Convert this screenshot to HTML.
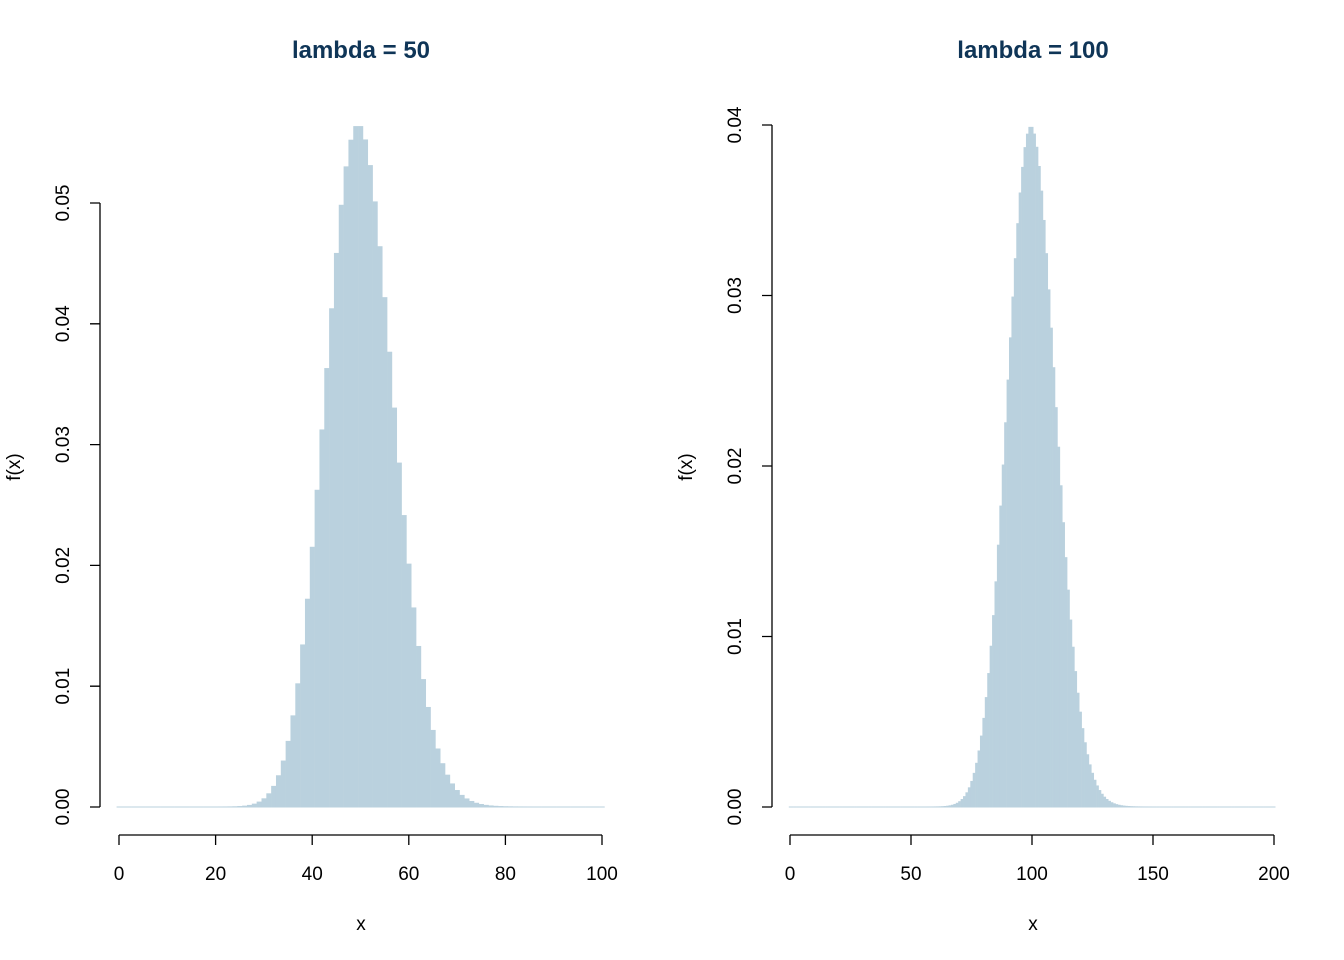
<!DOCTYPE html>
<html><head><meta charset="utf-8"><style>
body{margin:0;background:#fff}
svg{display:block}
text{font-family:"Liberation Sans",sans-serif;fill:#000}
.t{font-weight:bold;font-size:24px;fill:#0f3557}
.k{font-size:19px}
</style></head><body>
<svg id="s" width="1344" height="960" xmlns="http://www.w3.org/2000/svg">
<g id="bars"></g>
<g stroke="#000" stroke-width="1.3" fill="none">
<path d="M119 835H602M119 835v10M215.6 835v10M312.2 835v10M408.8 835v10M505.4 835v10M602 835v10"/>
<path d="M100 203V807M100 807h-10M100 686.2h-10M100 565.4h-10M100 444.6h-10M100 323.8h-10M100 203h-10"/>
<path d="M790 835H1274M790 835v10M911 835v10M1032 835v10M1153 835v10M1274 835v10"/>
<path d="M772 125V807M772 807h-10M772 636.5h-10M772 466h-10M772 295.5h-10M772 125h-10"/>
</g>
<text class="t" x="361" y="58" text-anchor="middle">lambda = 50</text>
<text class="t" x="1033" y="58" text-anchor="middle">lambda = 100</text>
<g class="k" text-anchor="middle">
<text x="119" y="880">0</text><text x="215.6" y="880">20</text><text x="312.2" y="880">40</text><text x="408.8" y="880">60</text><text x="505.4" y="880">80</text><text x="602" y="880">100</text>
<text x="790" y="880">0</text><text x="911" y="880">50</text><text x="1032" y="880">100</text><text x="1153" y="880">150</text><text x="1274" y="880">200</text>
<text x="361" y="930">x</text><text x="1033" y="930">x</text>
<text transform="translate(69,807) rotate(-90)">0.00</text>
<text transform="translate(69,686.2) rotate(-90)">0.01</text>
<text transform="translate(69,565.4) rotate(-90)">0.02</text>
<text transform="translate(69,444.6) rotate(-90)">0.03</text>
<text transform="translate(69,323.8) rotate(-90)">0.04</text>
<text transform="translate(69,203) rotate(-90)">0.05</text>
<text transform="translate(741,807) rotate(-90)">0.00</text>
<text transform="translate(741,636.5) rotate(-90)">0.01</text>
<text transform="translate(741,466) rotate(-90)">0.02</text>
<text transform="translate(741,295.5) rotate(-90)">0.03</text>
<text transform="translate(741,125) rotate(-90)">0.04</text>
<text transform="translate(20,467) rotate(-90)">f(x)</text>
<text transform="translate(692,467) rotate(-90)">f(x)</text>
</g>
</svg>
<script>
var g=document.getElementById('bars'),h='';
function draw(lam,n,x0,sx,y0,sy){
 var lp=-lam;
 for(var k=0;k<=n;k++){
  if(k>0)lp+=Math.log(lam)-Math.log(k);
  var p=Math.exp(lp),hh=p*sy;
  h+='<rect x="'+(x0+(k-0.5)*sx).toFixed(2)+'" y="'+(y0-hh-0.5).toFixed(2)+'" width="'+(sx+0.3).toFixed(2)+'" height="'+(hh+1).toFixed(2)+'" fill="#bad1de"/>';
 }
}
draw(50,100,119,4.83,807,12080);
draw(100,200,790,2.42,807,17050);
g.innerHTML=h;
</script>
</body></html>
